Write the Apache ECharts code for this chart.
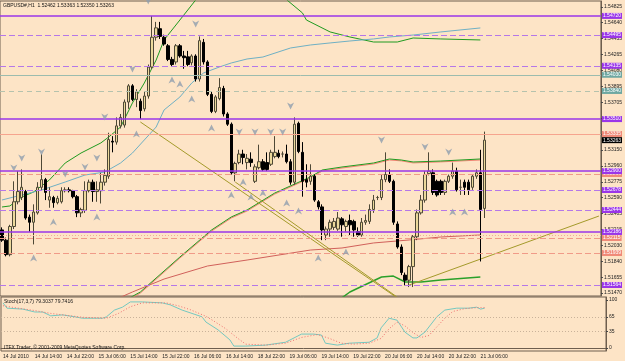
<!DOCTYPE html>
<html>
<head>
<meta charset="utf-8">
<title>GBPUSD# H1</title>
<script src="https://cdn.jsdelivr.net/npm/echarts@6/dist/echarts.min.js"></script>
<style>
  html, body { margin: 0; padding: 0; background: #fde4c6; }
  #main { width: 625px; height: 361px; }
</style>
</head>
<body>
<div id="main"></div>
<script>
// hourly bars, [open, close, low, high]
var ohlc = [
  [1.5221,1.5209,1.5207,1.5224],[1.5209,1.5192,1.5190,1.5212],[1.5192,1.5225,1.5190,1.5227],[1.5225,1.5254,1.5222,1.5278],
  [1.5254,1.5266,1.5251,1.5290],[1.5259,1.5271,1.5256,1.5292],[1.5266,1.5235,1.5233,1.5268],[1.5236,1.5230,1.5219,1.5239],
  [1.5230,1.5242,1.5204,1.5251],[1.5241,1.5271,1.5239,1.5277],[1.5271,1.5280,1.5268,1.5310],[1.5280,1.5265,1.5256,1.5282],
  [1.5256,1.5260,1.5247,1.5271],[1.5259,1.5253,1.5247,1.5261],[1.5253,1.5258,1.5251,1.5261],[1.5254,1.5267,1.5252,1.5271],
  [1.5267,1.5268,1.5265,1.5271],[1.5268,1.5267,1.5265,1.5271],[1.5267,1.5260,1.5258,1.5268],[1.5260,1.5241,1.5236,1.5262],
  [1.5241,1.5245,1.5236,1.5247],[1.5244,1.5267,1.5241,1.5278],[1.5267,1.5277,1.5265,1.5280],[1.5277,1.5266,1.5254,1.5280],
  [1.5266,1.5268,1.5254,1.5278],[1.5267,1.5277,1.5252,1.5288],[1.5277,1.5285,1.5273,1.5292],[1.5284,1.5327,1.5281,1.5335],
  [1.5325,1.5324,1.5312,1.5331],[1.5324,1.5343,1.5321,1.5353],[1.5343,1.5353,1.5340,1.5357],[1.5344,1.5371,1.5341,1.5374],
  [1.5371,1.5390,1.5363,1.5392],[1.5390,1.5374,1.5372,1.5392],[1.5374,1.5383,1.5365,1.5386],[1.5372,1.5361,1.5351,1.5375],
  [1.5363,1.5378,1.5360,1.5383],[1.5378,1.5412,1.5375,1.5415],[1.5412,1.5447,1.5410,1.5472],[1.5447,1.5458,1.5443,1.5465],
  [1.5457,1.5448,1.5445,1.5465],[1.5447,1.5439,1.5437,1.5450],[1.5437,1.5421,1.5419,1.5439],[1.5421,1.5415,1.5413,1.5424],
  [1.5418,1.5437,1.5415,1.5439],[1.5437,1.5425,1.5423,1.5439],[1.5425,1.5423,1.5410,1.5431],[1.5424,1.5415,1.5413,1.5431],
  [1.5417,1.5425,1.5414,1.5427],[1.5425,1.5398,1.5395,1.5427],[1.5398,1.5443,1.5395,1.5448],[1.5441,1.5418,1.5415,1.5445],
  [1.5418,1.5380,1.5378,1.5420],[1.5380,1.5360,1.5358,1.5383],[1.5360,1.5377,1.5358,1.5379],[1.5375,1.5388,1.5373,1.5399],
  [1.5387,1.5357,1.5354,1.5390],[1.5357,1.5345,1.5343,1.5359],[1.5345,1.5288,1.5286,1.5347],[1.5288,1.5299,1.5278,1.5301],
  [1.5300,1.5310,1.5298,1.5315],[1.5310,1.5306,1.5298,1.5315],[1.5300,1.5305,1.5292,1.5310],[1.5304,1.5300,1.5295,1.5312],
  [1.5278,1.5295,1.5276,1.5298],[1.5294,1.5301,1.5292,1.5321],[1.5301,1.5292,1.5290,1.5304],[1.5300,1.5292,1.5290,1.5312],
  [1.5298,1.5312,1.5296,1.5315],[1.5307,1.5312,1.5305,1.5331],[1.5311,1.5307,1.5305,1.5315],[1.5310,1.5310,1.5306,1.5313],
  [1.5310,1.5301,1.5299,1.5321],[1.5301,1.5277,1.5274,1.5304],[1.5277,1.5345,1.5274,1.5353],[1.5346,1.5313,1.5311,1.5348],
  [1.5312,1.5278,1.5260,1.5324],[1.5280,1.5277,1.5271,1.5298],[1.5278,1.5284,1.5274,1.5298],[1.5284,1.5256,1.5254,1.5286],
  [1.5254,1.5248,1.5245,1.5256],[1.5248,1.5221,1.5209,1.5251],[1.5215,1.5222,1.5209,1.5225],[1.5222,1.5230,1.5213,1.5233],
  [1.5224,1.5231,1.5221,1.5235],[1.5222,1.5235,1.5220,1.5242],[1.5234,1.5227,1.5213,1.5236],[1.5225,1.5231,1.5219,1.5233],
  [1.5232,1.5227,1.5215,1.5239],[1.5231,1.5221,1.5213,1.5233],[1.5219,1.5215,1.5213,1.5224],[1.5215,1.5230,1.5213,1.5235],
  [1.5230,1.5232,1.5227,1.5239],[1.5231,1.5245,1.5228,1.5251],[1.5245,1.5256,1.5241,1.5262],[1.5259,1.5259,1.5256,1.5261],
  [1.5259,1.5280,1.5256,1.5286],[1.5280,1.5286,1.5277,1.5312],[1.5286,1.5278,1.5276,1.5292],[1.5278,1.5230,1.5227,1.5280],
  [1.5228,1.5201,1.5199,1.5231],[1.5201,1.5171,1.5168,1.5204],[1.5168,1.5162,1.5156,1.5171],[1.5162,1.5178,1.5154,1.5180],
  [1.5178,1.5213,1.5154,1.5215],[1.5213,1.5241,1.5209,1.5245],[1.5241,1.5256,1.5239,1.5262],[1.5256,1.5286,1.5253,1.5290],
  [1.5287,1.5290,1.5285,1.5312],[1.5288,1.5265,1.5262,1.5292],[1.5278,1.5262,1.5260,1.5280],[1.5278,1.5265,1.5262,1.5280],
  [1.5265,1.5278,1.5262,1.5280],[1.5278,1.5284,1.5276,1.5286],[1.5284,1.5290,1.5281,1.5300],[1.5290,1.5268,1.5266,1.5294],
  [1.5271,1.5271,1.5262,1.5280],[1.5277,1.5271,1.5262,1.5280],[1.5277,1.5268,1.5262,1.5280],[1.5271,1.5284,1.5268,1.5286],
  [1.5284,1.5288,1.5281,1.5292],[1.5288,1.5245,1.5184,1.5315],[1.52462,1.53263,1.52350,1.53363]
];

var tickLabels = ['14 Jul 2010', '14 Jul 14:00', '14 Jul 22:00', '15 Jul 06:00', '15 Jul 14:00', '15 Jul 22:00',
  '16 Jul 06:00', '16 Jul 14:00', '18 Jul 22:00', '19 Jul 06:00', '19 Jul 14:00', '19 Jul 22:00',
  '20 Jul 06:00', '20 Jul 14:00', '20 Jul 22:00', '21 Jul 06:00'];

var priceTicks = [1.54825, 1.54640, 1.54455, 1.54265, 1.54080, 1.53895, 1.53705, 1.53520, 1.53335, 1.53150,
  1.52960, 1.52775, 1.52590, 1.52405, 1.52215, 1.52030, 1.51840, 1.51655, 1.51470];
var stochTicks = [0, 35, 65, 100];

// moving averages, [bar, price]
var maFast = [[0,1.52479],[2,1.52491],[5,1.52596],[8,1.52655],[12,1.52796],[16,1.52995],[20,1.53112],[25,1.53230],
  [27,1.53300],[30,1.53417],[33,1.53699],[36,1.53933],[39,1.54203],[41,1.54438],[45,1.54672],[49,1.54907],
  [56,1.5525],[64,1.5530],[70,1.5505],[72,1.5491],[76,1.54755],[77,1.54672],[83,1.54532],[88,1.54473],
  [94,1.54414],[100,1.54414],[104,1.54461],[111,1.54450],[121,1.54438]];
var maTeal = [[0,1.52561],[5,1.52620],[10,1.52678],[16,1.52772],[21,1.52854],[26,1.52889],[30,1.52995],[33,1.53112],
  [36,1.53265],[39,1.53417],[41,1.53617],[45,1.53769],[48,1.53933],[51,1.54051],[55,1.54121],[58,1.54168],
  [62,1.54215],[66,1.54238],[73,1.54344],[78,1.54379],[83,1.54403],[88,1.54426],[94,1.54450],[98,1.54473],
  [104,1.54496],[111,1.54532],[121,1.54579]];
var maGreen = [[31,1.5138],[35,1.51482],[37,1.51564],[45,1.51892],[53,1.52209],[58,1.52362],[62,1.52444],[69,1.52643],
  [78,1.52831],[81,1.52913],[86,1.52948],[94,1.52995],[98,1.53042],[101,1.53030],[104,1.53007],[111,1.53018],[121,1.53042]];
var maRedNear = [[31,1.5136],[35,1.51470],[37,1.51550],[45,1.51880],[53,1.52196],[58,1.52350],[62,1.52432],[69,1.52631],
  [78,1.52820],[81,1.52900],[86,1.52936],[94,1.52984],[98,1.53030],[101,1.53020],[104,1.52996],[111,1.53008],[121,1.53030]];
var maRed = [[28,1.5138],[33,1.51482],[41,1.51634],[52,1.51787],[62,1.51857],[78,1.51974],[86,1.51998],[94,1.52057],
  [103,1.52092],[111,1.52127],[121,1.52151]];
var maSlow = [[85,1.5138],[88,1.51482],[96,1.51658],[99,1.51669],[102,1.51599],[106,1.51599],[111,1.51623],[121,1.51658]];

// trend lines, [bar, price]
var trendA = [[35,1.53476],[100,1.51412]];
var trendB = [[59,1.52772],[101,1.51388]];
var trendC = [[103,1.51564],[151,1.52373]];

// fractals, [bar, price]
var fractalUp = [[3,1.52878],[5,1.52995],[10,1.53065],[16,1.52807],[21,1.52889],[24,1.52995],[26,1.53476],
  [33,1.54039],[37,1.54837],[49,1.54567],[60,1.53300],[64,1.53300],[68,1.53300],[71,1.53300],[73,1.53605],
  [96,1.53206],[107,1.53124],[113,1.53065]];
var fractalDown = [[8,1.51939],[13,1.52362],[24,1.52420],[34,1.53394],[43,1.54027],[45,1.53980],[48,1.53804],
  [53,1.53464],[58,1.52678],[61,1.52831],[63,1.52655],[66,1.52702],[72,1.52584],[75,1.52491],[80,1.51939],
  [87,1.52010],[114,1.52479],[117,1.52479]];

// horizontal levels
var levelsPurple = [1.54720, 1.53510, 1.52900, 1.52186];
var levelsPurpleDash = [1.54495, 1.54135, 1.52678, 1.52444, 1.51564];
var levelTeal = [1.54030];
var levelTealDash = [1.53840];
var levelsSalmon = [1.53335];
var levelsSalmonDash = [1.52866, 1.52115, 1.51939];
var levelsSalmonDot = [1.52150];
var lastPrice = 1.53263;

// stochastic (17,3,7), [bar, value]
var stochMain = [[0,94],[1,83],[5,81],[8,75],[10,75],[12,67],[15,69],[18,65],[20,62],[25,62],[26,65],[28,79],
  [30,85],[32,96],[35,96],[40,94],[42,90],[45,79],[50,65],[51,54],[54,38],[57,17],[58,4],[61,4],[66,6],[71,12],
  [75,29],[78,29],[80,27],[81,10],[84,6],[87,10],[92,12],[94,21],[95,42],[97,62],[99,58],[101,33],[103,21],
  [104,21],[106,33],[109,65],[111,79],[114,83],[117,83],[119,85],[120,81],[121,83]];
var stochSignal = [[0,88],[3,84],[8,78],[12,72],[16,68],[20,64],[26,62],[29,72],[32,86],[35,94],[41,94],[44,88],
  [47,80],[51,66],[53,56],[56,40],[59,20],[61,8],[66,6],[71,10],[75,22],[79,28],[82,20],[85,10],[88,8],[92,10],
  [95,20],[97,40],[99,54],[101,46],[103,32],[105,22],[107,26],[109,44],[111,62],[113,76],[116,82],[119,84],[121,84]];
var stochLevels = [35, 65];

var N = 152;
var cats = [];
for (var i = 0; i < N; i++) cats.push('b' + i);

var FONT = 'Liberation Sans';
var PURPLE = '#9a36e8';

// each level is its own empty series carrying one markLine, so styles never get mixed
function levelSeries(v, color, type, width, box) {
  return {
    type: 'line', xAxisIndex: 0, yAxisIndex: 0, data: [], silent: true, z: 2,
    markLine: {
      silent: true, symbol: ['none', 'none'], animation: false, precision: 5,
      lineStyle: { color: color, type: type, width: width },
      label: box ? {
        show: true, position: 'end', distance: 1, formatter: v.toFixed(5),
        backgroundColor: box, color: '#fff', fontSize: 5, fontFamily: FONT, padding: [1, 1, 0, 1]
      } : { show: false },
      data: [{ yAxis: v }]
    }
  };
}

var levelList = [];
levelsPurpleDash.forEach(function (v) { levelList.push(levelSeries(v, '#b577e8', [6, 3], 1, PURPLE)); });
levelTeal.forEach(function (v) { levelList.push(levelSeries(v, '#9cbcae', 'solid', 1, '#6fa8a2')); });
levelTealDash.forEach(function (v) { levelList.push(levelSeries(v, '#b5c2ad', [5, 4], 1, '#6fa8a2')); });
levelsSalmon.forEach(function (v) { levelList.push(levelSeries(v, '#f6a48e', 'solid', 1, '#f08a78')); });
levelsSalmonDash.forEach(function (v) { levelList.push(levelSeries(v, '#f09a88', [6, 3], 1, '#f08a78')); });
levelsSalmonDot.forEach(function (v) { levelList.push(levelSeries(v, '#f4a898', [1, 2], 1, null)); });
levelsPurple.forEach(function (v) { levelList.push(levelSeries(v, PURPLE, 'solid', 1.5, PURPLE)); });
levelList.push(levelSeries(lastPrice, 'rgba(0,0,0,0)', 'solid', 1, '#000'));

function maLine(data, color, width) {
  return {
    type: 'line', xAxisIndex: 0, yAxisIndex: 0, data: data, symbol: 'none',
    lineStyle: { color: color, width: width || 1 }, silent: true, z: 3
  };
}

var chart = echarts.init(document.getElementById('main'));
chart.setOption({
  animation: false,
  backgroundColor: '#fde4c6',
  textStyle: { fontFamily: FONT },
  grid: [
    { left: 0, right: 19, top: 1, height: 295, show: true, borderColor: '#6e5e4e', borderWidth: 1 },
    { left: 0, right: 19, top: 297, height: 54, show: true, borderColor: '#6e5e4e', borderWidth: 1 }
  ],
  xAxis: [
    { type: 'category', gridIndex: 0, data: cats, boundaryGap: true,
      axisLine: { show: false }, axisTick: { show: false }, axisLabel: { show: false } },
    { type: 'category', gridIndex: 1, data: cats, boundaryGap: true,
      axisLine: { lineStyle: { color: '#6e5e4e' } },
      axisTick: { alignWithLabel: true, length: 2, lineStyle: { color: '#444' },
        interval: function (idx) { return idx % 8 === 0 && idx / 8 < tickLabels.length; } },
      axisLabel: { fontSize: 5, color: '#222', align: 'left', margin: 3,
        interval: function (idx) { return idx % 8 === 0 && idx / 8 < tickLabels.length; },
        formatter: function (v, idx) { return tickLabels[idx / 8] || ''; } } }
  ],
  yAxis: [
    { type: 'value', gridIndex: 0, position: 'right', min: 1.51435, max: 1.54895, scale: true,
      axisLine: { show: true, lineStyle: { color: '#6e5e4e' } },
      axisTick: { show: true, length: 2, customValues: priceTicks, lineStyle: { color: '#444' } },
      axisLabel: { fontSize: 5, color: '#222', margin: 3, customValues: priceTicks,
        formatter: function (v) { return v.toFixed(5); } },
      splitLine: { show: false } },
    { type: 'value', gridIndex: 1, position: 'right', min: -6.25, max: 106.25,
      axisLine: { show: true, lineStyle: { color: '#6e5e4e' } },
      axisTick: { show: true, length: 2, customValues: stochTicks, lineStyle: { color: '#444' } },
      axisLabel: { fontSize: 5, color: '#222', margin: 3, customValues: stochTicks },
      splitLine: { show: false } }
  ],
  series: levelList.concat([
    { type: 'candlestick', xAxisIndex: 0, yAxisIndex: 0, data: ohlc, barWidth: 3, z: 4,
      itemStyle: { color: '#ecd99c', color0: '#000', borderColor: '#4e4836', borderColor0: '#000', borderWidth: 1 } },
    maLine(maFast, '#1f9a1f'),
    maLine(maTeal, '#6fb0c4'),
    maLine(maRedNear, '#f08070'),
    maLine(maGreen, '#1f9a1f'),
    maLine(maRed, '#d0605a'),
    maLine(maSlow, '#2aa02a', 1.5),
    maLine(trendA, '#a49a2a'),
    maLine(trendB, '#a49a2a'),
    maLine(trendC, '#a49a2a'),
    { type: 'scatter', xAxisIndex: 0, yAxisIndex: 0, data: fractalUp, z: 5,
      symbol: 'path://M0,0 L5,3 L10,0 L5,10 Z', symbolSize: [7, 7], symbolOffset: [0, -5],
      itemStyle: { color: '#8e9eae' } },
    { type: 'scatter', xAxisIndex: 0, yAxisIndex: 0, data: fractalDown, z: 5,
      symbol: 'path://M5,0 L10,10 L5,7 L0,10 Z', symbolSize: [7, 7], symbolOffset: [0, 5],
      itemStyle: { color: '#8e9eae' } },
    { type: 'line', xAxisIndex: 1, yAxisIndex: 1, data: stochMain, symbol: 'none',
      lineStyle: { color: '#74c8c0', width: 1 },
      markLine: { silent: true, symbol: ['none', 'none'], label: { show: false }, precision: 2,
        lineStyle: { color: '#c9b29a', type: [1, 2], width: 1 },
        data: stochLevels.map(function (v) { return { yAxis: v }; }) } },
    { type: 'line', xAxisIndex: 1, yAxisIndex: 1, data: stochSignal, symbol: 'none',
      lineStyle: { color: '#f07070', width: 1, type: [1, 2] } }
  ]),
  graphic: [
    { type: 'text', left: 3, top: 3, z: 10,
      style: { text: 'GBPUSD#,H1  1.52462 1.53363 1.52350 1.53263', fontSize: 5, fill: '#111', fontFamily: FONT } },
    { type: 'text', left: 4, top: 299, z: 10,
      style: { text: 'Stoch(17,3,7) 79.3037 79.7416', fontSize: 5, fill: '#111', fontFamily: FONT } },
    { type: 'text', left: 4, top: 345, z: 10,
      style: { text: 'ITFX Trader, \u00a9 2001-2009 MetaQuotes Software Corp.', fontSize: 5, fill: '#111', fontFamily: FONT } }
  ]
});
</script>
</body>
</html>
